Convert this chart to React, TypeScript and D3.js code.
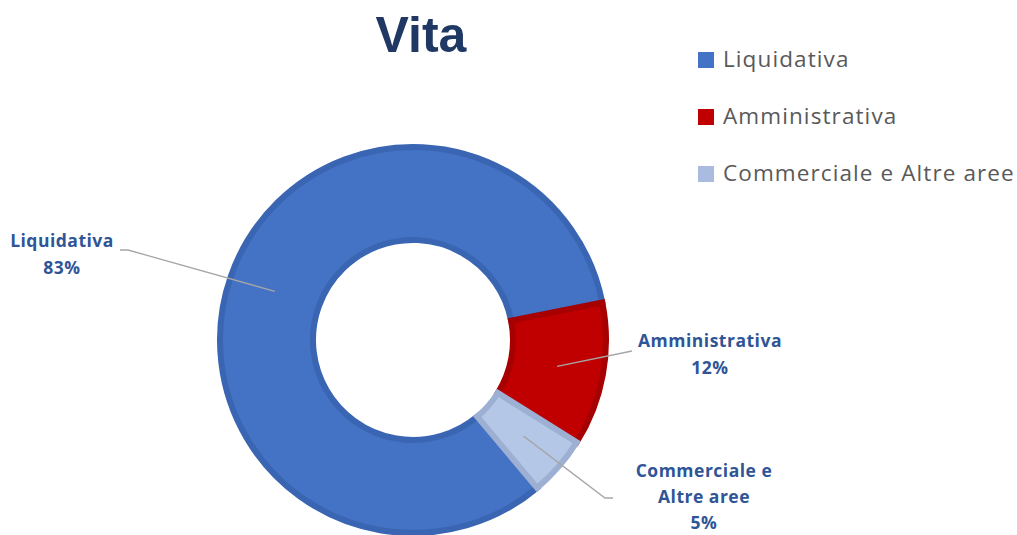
import { useEffect, useRef } from 'react';
import * as d3 from 'd3';

// categories and shares (%)
const categories = ['Liquidativa', 'Amministrativa', 'Commerciale e Altre aree'];
const values = [83, 12, 5];
const labelLines = [['Liquidativa', '83%'], ['Amministrativa', '12%'], ['Commerciale e', 'Altre aree', '5%']];
const fills = ['#4472C4', '#C00000', '#B4C7E7'];
const borders = ['#3A65B2', '#A60000', '#9DB0D3'];
const legendFills = ['#4472C4', '#C00000', '#A9BCDF'];

export default function App() {
  const svgRef = useRef<SVGSVGElement | null>(null);

  const width = 1017;
  const height = 535;
  const cx = 413;
  const cy = 340;
  const outer = 196;
  const inner = 97;
  const bw = 6; // slice border width

  useEffect(() => {
    const svg = d3.select(svgRef.current);
    svg.selectAll('*').remove();

    svg.append('rect').attr('width', width).attr('height', height).attr('fill', '#fff');

    // title
    svg.append('text')
      .attr('x', 421)
      .attr('y', 52)
      .attr('text-anchor', 'middle')
      .attr('font-family', 'Liberation Sans, Arial, sans-serif')
      .attr('font-weight', 'bold')
      .attr('font-size', 50)
      .attr('fill', '#1F3864')
      .text('Vita');

    const data = categories.map((c, i) => ({ name: c, value: values[i], i }));

    const pie = d3
      .pie<{ name: string; value: number; i: number }>()
      .sort(null)
      .value((d) => d.value)
      .startAngle((140 * Math.PI) / 180)
      .endAngle((140 * Math.PI) / 180 + 2 * Math.PI);

    const arcs = pie(data);

    const arc = d3
      .arc<d3.PieArcDatum<{ name: string; value: number; i: number }>>()
      .innerRadius(inner + bw / 2)
      .outerRadius(outer - bw / 2);

    const g = svg.append('g').attr('transform', `translate(${cx},${cy})`);

    // slice fill with inner-looking border
    g.selectAll('.slice')
      .data(arcs)
      .enter()
      .append('path')
      .attr('class', 'slice')
      .attr('d', arc)
      .attr('fill', (d) => fills[d.data.i])
      .attr('stroke', (d) => borders[d.data.i])
      .attr('stroke-width', bw)
      .attr('stroke-linejoin', 'miter');

    // leader lines and labels
    const centroidArc = d3
      .arc<d3.PieArcDatum<{ name: string; value: number; i: number }>>()
      .innerRadius(inner)
      .outerRadius(outer);

    // label anchor points (text center x, first baseline y, line step, leader elbow)
    const labelPos = [
      { x: 62, y: 247, step: 27, lx: 120, ly: 250, ex: 128 },
      { x: 710, y: 347, step: 27, lx: 632, ly: 351, ex: 632 },
      { x: 704, y: 477, step: 26, lx: 613, ly: 498, ex: 605 },
    ];

    arcs.forEach((a, k) => {
      const [px, py] = centroidArc.centroid(a);
      const p = labelPos[k];
      const pts: [number, number][] = [
        [p.lx, p.ly],
        [p.ex, p.ly],
        [cx + px, cy + py],
      ];
      svg.append('path')
        .attr('d', d3.line()(pts))
        .attr('fill', 'none')
        .attr('stroke', '#A6A6A6')
        .attr('stroke-width', 1.3);

      const t = svg.append('text')
        .attr('text-anchor', 'middle')
        .attr('font-family', 'Open Sans, sans-serif')
        .attr('font-weight', 'bold')
        .attr('font-size', 17.5)
        .attr('letter-spacing', 0.5)
        .attr('fill', '#2F5597');
      labelLines[k].forEach((ln, j) => {
        t.append('tspan').attr('x', p.x).attr('y', p.y + j * p.step).text(ln);
      });
    });

    // legend
    const legend = svg.append('g').attr('transform', 'translate(698,52)');
    categories.forEach((c, i) => {
      const row = legend.append('g').attr('transform', `translate(0,${i * 57})`);
      row.append('rect').attr('width', 16).attr('height', 16).attr('fill', legendFills[i]);
      row.append('text')
        .attr('x', 25)
        .attr('y', 15)
        .attr('font-family', 'Open Sans, sans-serif')
        .attr('font-size', 22.5)
        .attr('letter-spacing', 1.1)
        .attr('fill', '#595959')
        .text(c);
    });
  }, []);

  return (
    <svg
      ref={svgRef}
      width={width}
      height={height}
      style={{ position: 'absolute', left: 0, top: 0 }}
    ></svg>
  );
}
